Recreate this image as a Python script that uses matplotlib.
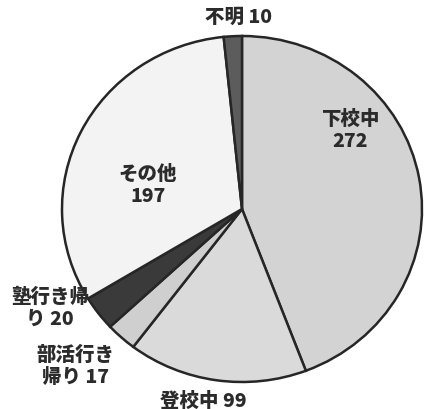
import matplotlib
matplotlib.use("Agg")
import matplotlib.pyplot as plt

categories = ["下校中", "登校中", "部活行き帰り", "塾行き帰り", "その他", "不明"]
values = [272, 99, 17, 20, 197, 10]
label_texts = ["下校中\n272", "登校中 99", "部活行き\n帰り 17", "塾行き帰\nり 20", "その他\n197", "不明 10"]
colors = ["#d3d3d3", "#dadada", "#cfcfcf", "#3a3a3a", "#f3f3f3", "#5c5c5c"]
# label positions in pixel coordinates (x from left, y from top)
label_pos = [(350, 130), (203, 401), (75, 366), (50, 308), (148, 185), (238, 17)]

W, H = 424, 410
plt.rcParams['font.family'] = ['Noto Sans CJK JP', 'DejaVu Sans']

fig = plt.figure(figsize=(W / 100, H / 100), dpi=100)
fig.patch.set_facecolor("white")
ax = fig.add_axes([0, 0, 1, 1])

ax.pie(values, colors=colors, startangle=90, counterclock=False, radius=1.0,
       wedgeprops=dict(edgecolor="#262626", linewidth=1.8))

cx, cy = 242, 210
rx, ry = 180, 173
ax.set_xlim(-cx / rx, (W - cx) / rx)
ax.set_ylim(-(H - cy) / ry, cy / ry)
ax.set_aspect("auto")
ax.axis("off")

for txt, (px, py) in zip(label_texts, label_pos):
    ax.text(px / W, 1 - py / H, txt, transform=ax.transAxes, ha="center", va="center",
            fontsize=14, fontweight="black", color="#2b2b2b", linespacing=1.2)

fig.savefig("out.png", dpi=100, facecolor="white")
